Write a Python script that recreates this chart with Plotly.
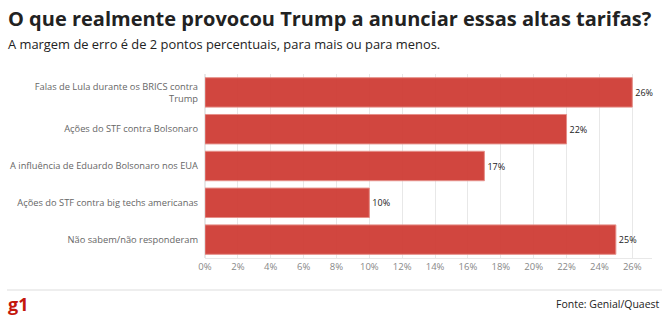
import plotly.graph_objects as go

categories = [
    "Falas de Lula durante os BRICS contra<br>Trump",
    "Ações do STF contra Bolsonaro",
    "A influência de Eduardo Bolsonaro nos EUA",
    "Ações do STF contra big techs americanas",
    "Não sabem/não responderam",
]
values = [26, 22, 17, 10, 25]
tick_vals = list(range(0, 27, 2))
tick_text = [f"{v}%" for v in tick_vals]

BAR_RED = "#cf3d35"
FONT = "Open Sans"

W, H = 669, 325
ML, MR, MT, MB = 205, 17, 74, 67
PW = W - ML - MR
PH = H - MT - MB


def px_x(x):
    return (x - ML) / PW


def px_y(y):
    return (H - MB - y) / PH


fig = go.Figure(
    go.Bar(
        x=values,
        y=categories,
        orientation="h",
        marker=dict(color=BAR_RED, opacity=0.95,
                    line=dict(color="#e58a84", width=1)),
        width=0.8,
        text=[f"{v}%" for v in values],
        textposition="outside",
        cliponaxis=False,
        textfont=dict(family=FONT, size=9, color="#222"),
        hoverinfo="skip",
    )
)

fig.update_layout(
    width=W,
    height=H,
    margin=dict(l=ML, r=MR, t=MT, b=MB, autoexpand=False),
    paper_bgcolor="white",
    plot_bgcolor="white",
    showlegend=False,
    font=dict(family=FONT),
    xaxis=dict(
        range=[0, 27.2],
        tickvals=tick_vals,
        ticktext=tick_text,
        tickfont=dict(family=FONT, size=9.5, color="#888"),
        showgrid=True,
        gridcolor="#e8e8e8",
        gridwidth=1,
        zeroline=True,
        zerolinecolor="#e8e8e8",
        showline=True,
        linecolor="#e8e8e8",
        ticks="",
        automargin=False,
        fixedrange=True,
    ),
    yaxis=dict(
        autorange="reversed",
        tickfont=dict(family=FONT, size=9.3, color="#666"),
        ticks="",
        ticklabelstandoff=6,
        showgrid=False,
        automargin=False,
        fixedrange=True,
    ),
    annotations=[
        dict(
            text="<b>O que realmente provocou Trump a anunciar essas altas tarifas?</b>",
            x=px_x(6), y=px_y(19), xref="paper", yref="paper", showarrow=False,
            xanchor="left", yanchor="middle",
            font=dict(family=FONT, size=20, color="#222"),
        ),
        dict(
            text="A margem de erro é de 2 pontos percentuais, para mais ou para menos.",
            x=px_x(6), y=px_y(44), xref="paper", yref="paper", showarrow=False,
            xanchor="left", yanchor="middle",
            font=dict(family=FONT, size=12.9, color="#222"),
        ),
        dict(
            text="<b>g1</b>",
            x=px_x(6), y=px_y(304), xref="paper", yref="paper", showarrow=False,
            xanchor="left", yanchor="middle",
            font=dict(family=FONT, size=18, color="#c4170c"),
        ),
        dict(
            text="Fonte: Genial/Quaest",
            x=px_x(662), y=px_y(304), xref="paper", yref="paper", showarrow=False,
            xanchor="right", yanchor="middle",
            font=dict(family=FONT, size=10.5, color="#222"),
        ),
    ],
    shapes=[
        dict(type="line", xref="paper", yref="paper",
             x0=px_x(7), x1=px_x(662), y0=px_y(290), y1=px_y(290),
             line=dict(color="#dddddd", width=1)),
    ],
)

fig.write_html("out.html")
